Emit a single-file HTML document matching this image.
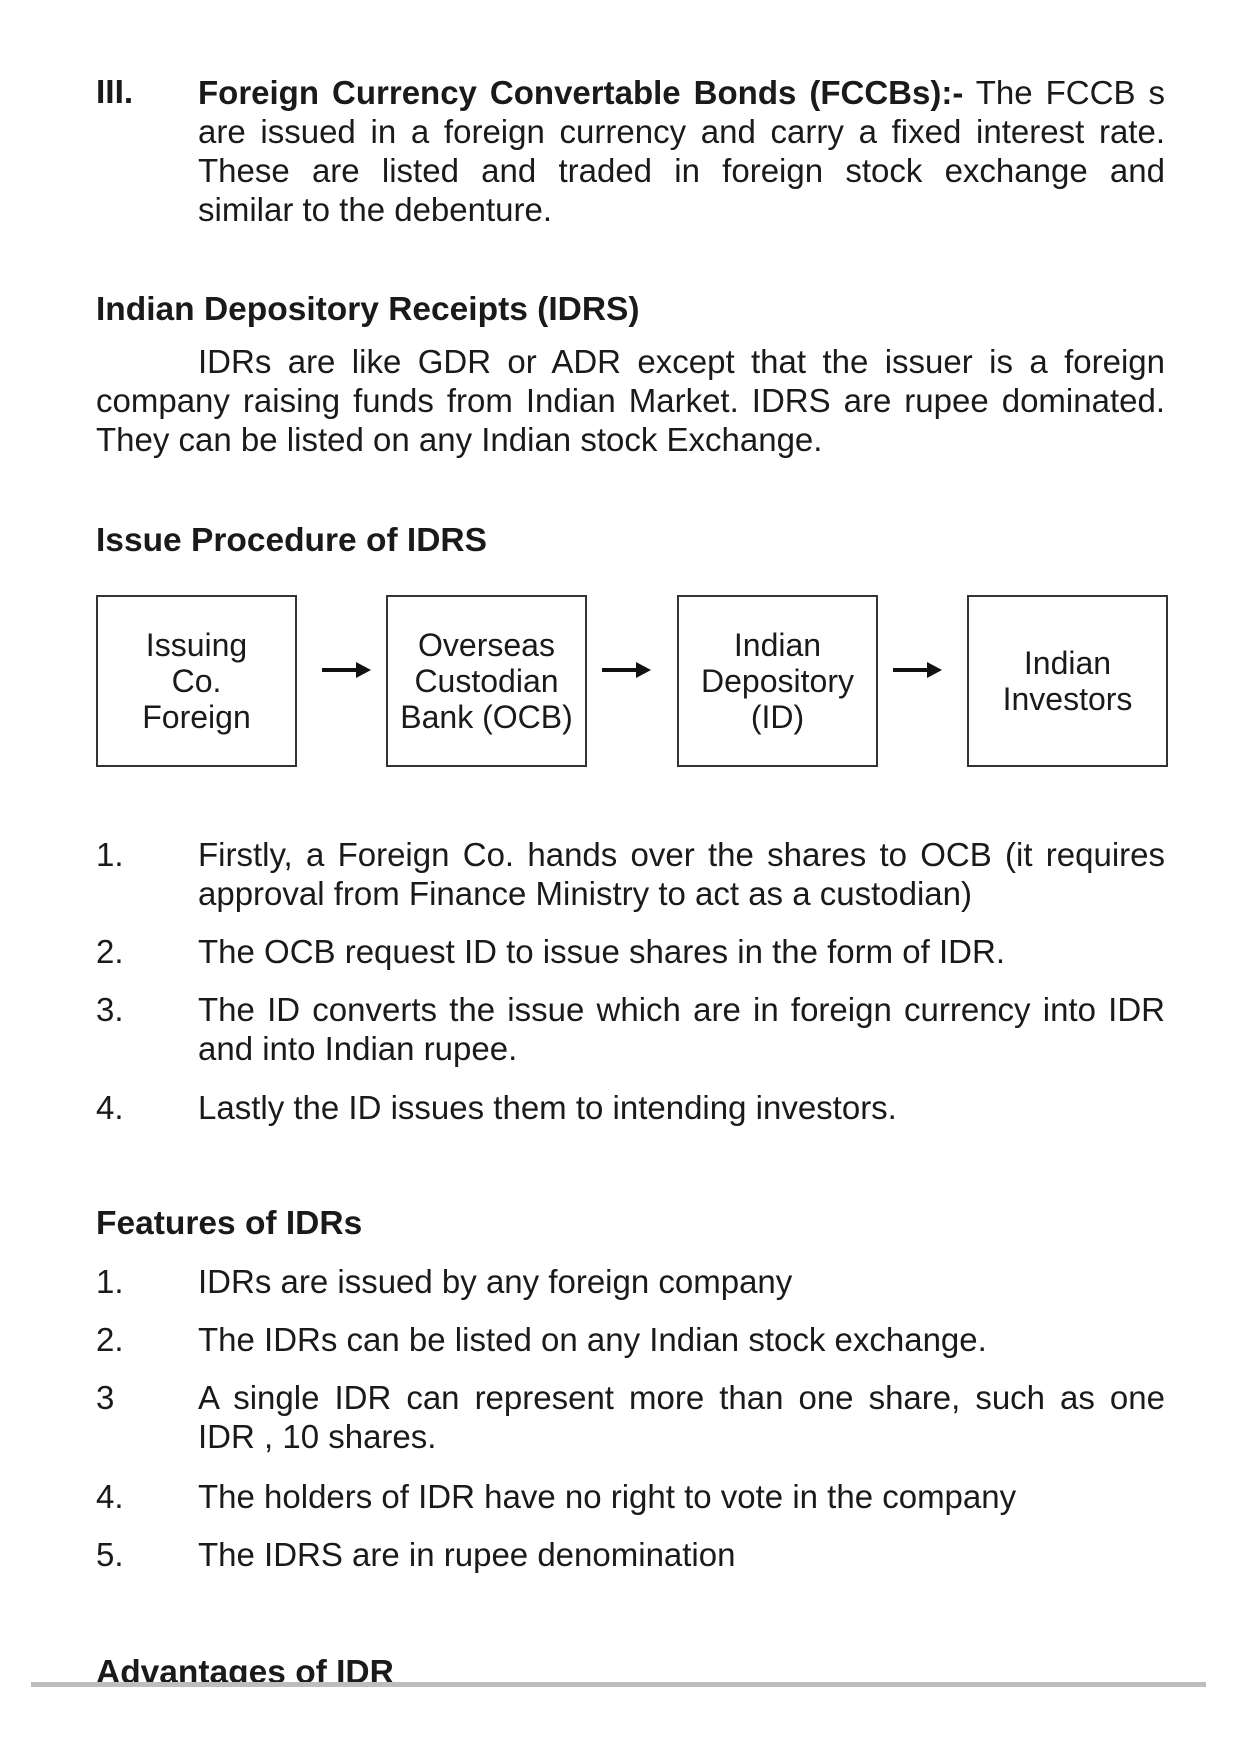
<!DOCTYPE html>
<html><head><meta charset="utf-8"><style>
html,body{margin:0;padding:0;background:#fff;}
body{width:1240px;height:1755px;position:relative;overflow:hidden;font-family:"Liberation Sans",Arial,sans-serif;color:#1a1a1a;font-size:33px;letter-spacing:0;}
.l{position:absolute;line-height:39px;white-space:nowrap;}
.j{text-align:justify;text-align-last:justify;white-space:normal;}
.b{font-weight:bold;font-size:33.5px;}
.j b{font-size:33px;}
.box{position:absolute;top:595px;width:197px;height:168px;border:2px solid #333;box-sizing:content-box;display:flex;align-items:center;justify-content:center;text-align:center;font-size:32px;line-height:36px;letter-spacing:0;}
.arr{position:absolute;top:660px;width:50px;height:20px;}
</style></head><body>
<div class="l b" style="left:96px;top:73px">III.</div>
<div class="l j" style="left:198px;top:73px;width:967px"><b>Foreign Currency Convertable Bonds (FCCBs):-</b> The FCCB s</div>
<div class="l j" style="left:198px;top:112px;width:967px">are issued in a foreign currency and carry a fixed interest rate.</div>
<div class="l j" style="left:198px;top:151px;width:967px">These are listed and traded in foreign stock exchange and</div>
<div class="l" style="left:198px;top:190px">similar to the debenture.</div>

<div class="l b" style="left:96px;top:290px">Indian Depository Receipts (IDRS)</div>
<div class="l j" style="left:198px;top:342px;width:967px">IDRs are like GDR or ADR except that the issuer is a foreign</div>
<div class="l j" style="left:96px;top:381px;width:1069px">company raising funds from Indian Market. IDRS are rupee dominated.</div>
<div class="l" style="left:96px;top:420px">They can be listed on any Indian stock Exchange.</div>

<div class="l b" style="left:96px;top:521px">Issue Procedure of IDRS</div>

<div class="box" style="left:96px">Issuing<br>Co.<br>Foreign</div>
<div class="box" style="left:386px">Overseas<br>Custodian<br>Bank (OCB)</div>
<div class="box" style="left:677px">Indian<br>Depository<br>(ID)</div>
<div class="box" style="left:967px">Indian<br>Investors</div>
<svg class="arr" style="left:322px" viewBox="0 0 50 20"><line x1="0" y1="10" x2="38" y2="10" stroke="#111" stroke-width="4"/><polygon points="34,2 49,10 34,18" fill="#111"/></svg>
<svg class="arr" style="left:602px" viewBox="0 0 50 20"><line x1="0" y1="10" x2="38" y2="10" stroke="#111" stroke-width="4"/><polygon points="34,2 49,10 34,18" fill="#111"/></svg>
<svg class="arr" style="left:893px" viewBox="0 0 50 20"><line x1="0" y1="10" x2="38" y2="10" stroke="#111" stroke-width="4"/><polygon points="34,2 49,10 34,18" fill="#111"/></svg>

<div class="l" style="left:96px;top:835px">1.</div>
<div class="l j" style="left:198px;top:835px;width:967px">Firstly, a Foreign Co. hands over the shares to OCB (it requires</div>
<div class="l" style="left:198px;top:874px">approval from Finance Ministry to act as a custodian)</div>
<div class="l" style="left:96px;top:932px">2.</div>
<div class="l" style="left:198px;top:932px">The OCB request ID to issue shares in the form of IDR.</div>
<div class="l" style="left:96px;top:990px">3.</div>
<div class="l j" style="left:198px;top:990px;width:967px">The ID converts the issue which are in foreign currency into IDR</div>
<div class="l" style="left:198px;top:1029px">and into Indian rupee.</div>
<div class="l" style="left:96px;top:1088px">4.</div>
<div class="l" style="left:198px;top:1088px">Lastly the ID issues them to intending investors.</div>

<div class="l b" style="left:96px;top:1204px">Features of IDRs</div>
<div class="l" style="left:96px;top:1262px">1.</div>
<div class="l" style="left:198px;top:1262px">IDRs are issued by any foreign company</div>
<div class="l" style="left:96px;top:1320px">2.</div>
<div class="l" style="left:198px;top:1320px">The IDRs can be listed on any Indian stock exchange.</div>
<div class="l" style="left:96px;top:1378px">3</div>
<div class="l j" style="left:198px;top:1378px;width:967px">A single IDR can represent more than one share, such as one</div>
<div class="l" style="left:198px;top:1417px">IDR , 10 shares.</div>
<div class="l" style="left:96px;top:1477px">4.</div>
<div class="l" style="left:198px;top:1477px">The holders of IDR have no right to vote in the company</div>
<div class="l" style="left:96px;top:1535px">5.</div>
<div class="l" style="left:198px;top:1535px">The IDRS are in rupee denomination</div>

<div style="position:absolute;left:0;top:1640px;width:1240px;height:42px;overflow:hidden">
<div class="l b" style="left:96px;top:13px">Advantages of IDR</div>
</div>
<div style="position:absolute;left:31px;top:1682px;width:1175px;height:5px;background:#bdbdbd"></div>
</body></html>
